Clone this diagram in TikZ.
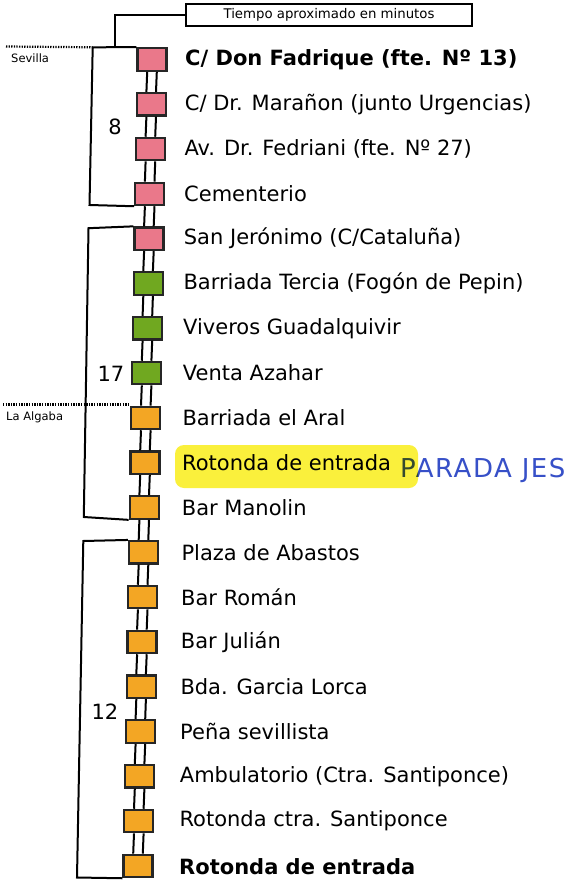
\documentclass[tikz,border=0pt]{standalone}
\usepackage{fontspec}
\setmainfont{DejaVu Sans}
\definecolor{pinkc}{RGB}{234,120,138}
\definecolor{greenc}{RGB}{112,168,32}
\definecolor{orangec}{RGB}{243,166,36}
\definecolor{hlyellow}{RGB}{250,240,60}
\definecolor{penblue}{RGB}{55,80,200}
\begin{document}
\begin{tikzpicture}[x=1pt,y=-1pt,
  stopbox/.style={draw=black!85, line width=2.2pt, minimum width=29pt, minimum height=22.5pt, inner sep=0pt},
  pinkstop/.style={stopbox, fill=pinkc},
  greenstop/.style={stopbox, fill=greenc},
  orangestop/.style={stopbox, fill=orangec},
  lbl/.style={anchor=west, inner sep=0pt, font=\fontsize{21}{25}\selectfont},
  blbl/.style={lbl, font=\fontsize{21}{25}\selectfont\bfseries},
  rail/.style={line width=2pt},
  bracket/.style={line width=2pt},
  minutes/.style={font=\fontsize{21}{25}\selectfont, inner sep=0pt},
  town/.style={font=\fontsize{11.5}{13}\selectfont, inner sep=0pt, anchor=west},
  boundary/.style={line width=2.2pt, dash pattern=on 1.3pt off 1.3pt},
]
\useasboundingbox (0,0) rectangle (576,882);
\fill[white] (0,0) rectangle (576,882);

% stops
\node[pinkstop]   (s0)  at (152.0,59.5)  {};
\node[pinkstop]   (s1)  at (151.2,104.3) {};
\node[pinkstop]   (s2)  at (150.4,149.1) {};
\node[pinkstop]   (s3)  at (149.7,193.9) {};
\node[pinkstop]   (s4)  at (148.9,238.7) {};
\node[greenstop]  (s5)  at (148.1,283.5) {};
\node[greenstop]  (s6)  at (147.4,328.3) {};
\node[greenstop]  (s7)  at (146.6,373.1) {};
\node[orangestop] (s8)  at (145.8,417.9) {};
\node[orangestop] (s9)  at (145.0,462.7) {};
\node[orangestop] (s10) at (144.2,507.5) {};
\node[orangestop] (s11) at (143.5,552.3) {};
\node[orangestop] (s12) at (142.7,597.1) {};
\node[orangestop] (s13) at (141.9,641.9) {};
\node[orangestop] (s14) at (141.1,686.7) {};
\node[orangestop] (s15) at (140.4,731.5) {};
\node[orangestop] (s16) at (139.6,776.3) {};
\node[orangestop] (s17) at (138.8,821.1) {};
\node[orangestop] (s18) at (138.0,865.9) {};

% rails
\foreach \a/\b in {s0/s1,s1/s2,s2/s3,s3/s4,s4/s5,s5/s6,s6/s7,s7/s8,s8/s9,s9/s10,s10/s11,s11/s12,s12/s13,s13/s14,s14/s15,s15/s16,s16/s17,s17/s18}{
  \draw[rail] ([xshift=-4.8pt]\a.south) -- ([xshift=-4.8pt]\b.north);
  \draw[rail] ([xshift=4.8pt]\a.south) -- ([xshift=4.8pt]\b.north);
}

% labels
\node[blbl] (t0)  at (185.0,60)  {C/ Don Fadrique (fte. Nº 13)};
\node[lbl]  (t1)  at (184.7,104.3) {C/ Dr. Marañon (junto Urgencias)};
\node[lbl]  (t2)  at (184.3,149.1) {Av. Dr. Fedriani (fte. Nº 27)};
\node[lbl]  (t3)  at (184.0,193.9) {Cementerio};
\node[lbl]  (t4)  at (183.7,238.7) {San Jerónimo (C/Cataluña)};
\node[lbl]  (t5)  at (183.3,283.5) {Barriada Tercia (Fogón de Pepin)};
\node[lbl]  (t6)  at (183.0,328.3) {Viveros Guadalquivir};
\node[lbl]  (t7)  at (182.7,373.1) {Venta Azahar};
\node[lbl]  (t8)  at (182.3,417.9) {Barriada el Aral};
\node[lbl]  (t9)  at (182.0,462.7) {Rotonda de entrada};
\node[lbl]  (t10) at (181.7,507.5) {Bar Manolin};
\node[lbl]  (t11) at (181.3,552.3) {Plaza de Abastos};
\node[lbl]  (t12) at (181.0,597.1) {Bar Román};
\node[lbl]  (t13) at (180.7,641.9) {Bar Julián};
\node[lbl]  (t14) at (180.3,686.7) {Bda. Garcia Lorca};
\node[lbl]  (t15) at (180.0,731.5) {Peña sevillista};
\node[lbl]  (t16) at (179.7,776.3) {Ambulatorio (Ctra. Santiponce)};
\node[lbl]  (t17) at (179.3,821.1) {Rotonda ctra. Santiponce};
\node[blbl] (t18) at (179.0,866.5) {Rotonda de entrada};

% handwritten note
\node[anchor=west, inner sep=0pt, text=penblue,
      font=\fontsize{26}{30}\selectfont\addfontfeatures{LetterSpace=6}] (note) at (400,470) {PARADA JES};

% highlight (multiply)
\begin{scope}[blend mode=multiply]
\fill[hlyellow, rounded corners=9pt] (175,445) rectangle (418,488);
\end{scope}

% brackets
\coordinate (b1t) at (92.7,47.3);
\coordinate (b1b) at (89.5,205);
\coordinate (b2t) at (88.5,228.2);
\coordinate (b2b) at (83.8,517);
\coordinate (b3t) at (83.3,541);
\coordinate (b3b) at (77,877.5);
\draw[bracket] (s0.north west) -- (b1t) -- (b1b) -- (s3.south west);
\draw[bracket] (s4.north west) -- (b2t) -- (b2b) -- (s10.south west);
\draw[bracket] (s11.north west) -- (b3t) -- (b3b) -- (s18.south west);

\node[minutes] (m8)  at (115,127) {8};
\node[minutes] (m17) at (111,374) {17};
\node[minutes] (m12) at (105,712) {12};

% legend box
\node[draw, line width=1.8pt, minimum width=286pt, minimum height=22pt, inner sep=0pt,
      font=\fontsize{13.3}{15}\selectfont] (legend) at (329,15) {Tiempo aproximado en minutos};
\coordinate (lk) at (115,15);
\coordinate (lkb) at (115,47.3);
\draw[line width=1.1pt] (legend.west) -- (lk) -- (lkb);

% town boundaries
\coordinate (sevw) at (6,46.5);
\draw[boundary] (sevw) -- (b1t);
\node[town] (sevilla) at (11,58) {Sevilla};
\coordinate (algw) at (3,404.5);
\coordinate (alge) at (130,404.5);
\draw[boundary] (algw) -- (alge);
\node[town] (algaba) at (6,417) {La Algaba};
\end{tikzpicture}
\end{document}
